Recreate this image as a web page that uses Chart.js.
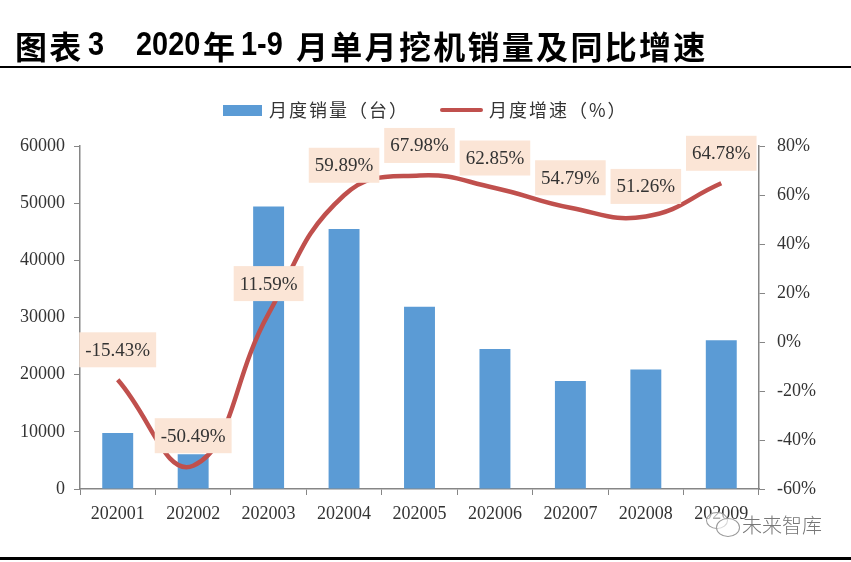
<!DOCTYPE html>
<html>
<head>
<meta charset="utf-8">
<script src="https://cdn.jsdelivr.net/npm/chart.js@4.4.0/dist/chart.umd.min.js"></script>
<style>
  body { margin: 0; background: #fff; width: 851px; height: 562px; overflow: hidden; position: relative; }
  #title span { position: absolute; top: 22px; white-space: pre; color: #000; }
  #title .cjk { font: bold 32px "Noto Sans CJK SC", sans-serif; letter-spacing: 2.3px; }
  #title .num { top: 24px; font: bold 34px "Liberation Sans", sans-serif; transform: scaleX(0.85); transform-origin: left top; }
  #rule-top { position: absolute; left: 0; top: 66px; width: 851px; height: 2px; background: #000; }
  #rule-bottom { position: absolute; left: 0; top: 557px; width: 851px; height: 3px; background: #000; }
  #mark { position: absolute; left: 742px; top: 510px; font: 300 20px "Noto Sans CJK SC", sans-serif; color: #777; }
  .bubble { position: absolute; border: 1px solid #999; border-radius: 50%; background: rgba(255,255,255,0.6); }
  canvas { position: absolute; left: 0; top: 0; }
</style>
</head>
<body>
<canvas id="chart" width="851" height="562"></canvas>
<div id="title">
  <span class="cjk" style="left:15px">图表</span>
  <span class="num" style="left:88px">3</span>
  <span class="num" style="left:136px">2020</span>
  <span class="cjk" style="left:203px">年</span>
  <span class="num" style="left:241px">1-9</span>
  <span class="cjk" style="left:296px">月单月挖机销量及同比增速</span>
</div>
<div id="rule-top"></div>
<div id="rule-bottom"></div>
<div class="bubble" style="left:706px;top:512px;width:20px;height:15px;"></div>
<div class="bubble" style="left:716px;top:518px;width:22px;height:17px;"></div>
<div id="mark">未来智库</div>
<script>
// Chart data
const months = ['202001', '202002', '202003', '202004', '202005', '202006', '202007', '202008', '202009'];
const sales = [9800, 6100, 49400, 45500, 31900, 24500, 18900, 20900, 26000];
const growth = [-15.43, -50.49, 11.59, 59.89, 67.98, 62.85, 54.79, 51.26, 64.78];

const barColor = '#5B9BD5';
const lineColor = '#C0504D';
const axisColor = '#868686';
const tickFont = { family: '"Liberation Serif", serif', size: 18 };

// Boxed value labels above the growth line
const rateLabels = {
    id: 'rateLabels',
    afterDatasetsDraw(chart) {
        const ctx = chart.ctx;
        const meta = chart.getDatasetMeta(1);
        ctx.save();
        ctx.font = '19px "Liberation Serif", serif';
        ctx.textAlign = 'center';
        ctx.textBaseline = 'middle';
        meta.data.forEach((pt, i) => {
            const text = growth[i].toFixed(2) + '%';
            const w = ctx.measureText(text).width + 12;
            const h = 35;
            const y = pt.y - 30;
            ctx.fillStyle = '#FBE5D6';
            ctx.fillRect(pt.x - w / 2, y - h / 2, w, h);
            ctx.fillStyle = '#333';
            ctx.fillText(text, pt.x, y + 1);
        });
        ctx.restore();
    }
};

// Legend drawn by hand to match the source layout
const topLegend = {
    id: 'topLegend',
    afterDraw(chart) {
        const ctx = chart.ctx;
        const ds = chart.data.datasets;
        const y = 110;
        ctx.save();
        ctx.fillStyle = ds[0].backgroundColor;
        ctx.fillRect(223, y - 5, 39, 11);
        ctx.strokeStyle = ds[1].borderColor;
        ctx.lineWidth = 4;
        ctx.lineCap = 'round';
        ctx.beginPath();
        ctx.moveTo(442, y);
        ctx.lineTo(481, y);
        ctx.stroke();
        ctx.font = '18px "Noto Sans CJK SC", sans-serif';
        ctx.letterSpacing = '2px';
        ctx.fillStyle = '#333';
        ctx.textBaseline = 'middle';
        ctx.fillText(ds[0].label, 269, y);
        ctx.fillText(ds[1].label, 489, y);
        ctx.restore();
    }
};

new Chart(document.getElementById('chart'), {
    data: {
        labels: months,
        datasets: [
            {
                type: 'bar',
                label: '月度销量（台）',
                data: sales,
                yAxisID: 'y',
                backgroundColor: barColor,
                barPercentage: 0.41,
                categoryPercentage: 1,
                order: 1
            },
            {
                type: 'line',
                label: '月度增速（%）',
                data: growth,
                yAxisID: 'y2',
                borderColor: lineColor,
                borderWidth: 4.5,
                pointRadius: 0,
                tension: 0.45,
                order: 0
            }
        ]
    },
    options: {
        responsive: false,
        animation: false,
        layout: { padding: { top: 146, left: 0, right: 0, bottom: 0 } },
        plugins: {
            legend: { display: false },
            tooltip: { enabled: false }
        },
        scales: {
            x: {
                offset: true,
                grid: { drawOnChartArea: false, color: axisColor, tickLength: 6, offset: true },
                border: { color: axisColor, width: 1.5 },
                ticks: { font: tickFont, color: '#333', padding: 8, maxRotation: 0 },
                afterFit(scale) { scale.height = 73; }
            },
            y: {
                position: 'left',
                min: 0,
                max: 60000,
                grid: { drawOnChartArea: false, color: axisColor, tickLength: 6 },
                border: { color: axisColor, width: 1.5 },
                ticks: { stepSize: 10000, font: tickFont, color: '#333', padding: 9, callback: v => String(v) },
                afterFit(scale) { scale.width = 80; }
            },
            y2: {
                position: 'right',
                min: -60,
                max: 80,
                grid: { drawOnChartArea: false, color: axisColor, tickLength: 6 },
                border: { color: axisColor, width: 1.5 },
                ticks: { stepSize: 20, font: tickFont, color: '#333', padding: 12, callback: v => v + '%' },
                afterFit(scale) { scale.width = 92; }
            }
        }
    },
    plugins: [rateLabels, topLegend]
});
</script>
</body>
</html>
